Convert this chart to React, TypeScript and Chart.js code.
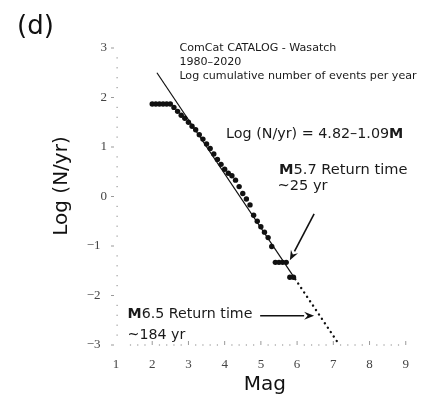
import React, { useEffect, useRef } from 'react';
import { Chart, registerables } from 'chart.js';

Chart.register(...registerables);

// Observed data: magnitude bins and log cumulative events per year
const magnitudes = [
  2.0, 2.1, 2.2, 2.3, 2.4, 2.5, 2.6, 2.7, 2.8, 2.9,
  3.0, 3.1, 3.2, 3.3, 3.4, 3.5, 3.6, 3.7, 3.8, 3.9,
  4.0, 4.1, 4.2, 4.3, 4.4, 4.5, 4.6, 4.7, 4.8, 4.9,
  5.0, 5.1, 5.2, 5.3, 5.4, 5.5, 5.6, 5.7, 5.8, 5.9,
];
const logRates = [
  1.87, 1.87, 1.87, 1.87, 1.87, 1.87, 1.80, 1.72, 1.64, 1.58,
  1.50, 1.42, 1.35, 1.25, 1.16, 1.06, 0.97, 0.86, 0.75, 0.65,
  0.55, 0.47, 0.42, 0.33, 0.20, 0.06, -0.05, -0.17, -0.38, -0.50,
  -0.61, -0.72, -0.83, -1.01, -1.33, -1.33, -1.33, -1.33, -1.63, -1.63,
];

// Fit line Log(N/yr) = 4.82 - 1.09M (read endpoints)
const fitSolidX = [2.13, 5.95];
const fitSolidY = [2.5, -1.67];
const fitDotX = [5.95, 7.17];
const fitDotY = [-1.67, -3.0];

// Axis ranges / ticks
const xMin = 1;
const xMax = 9;
const yMin = -3;
const yMax = 3;

// Annotations text
const catalogLines = [
  'ComCat CATALOG - Wasatch',
  '1980\u20132020',
  'Log cumulative number of events per year',
];
const equationText = ['Log (N/yr) = 4.82\u20131.09', 'M'];
const note57 = ['M', '5.7 Return time', '~25 yr'];
const note65 = ['M', '6.5 Return time', '~184 yr'];

const SANS = '"DejaVu Sans", sans-serif';

function drawArrow(ctx: CanvasRenderingContext2D, x0: number, y0: number, x1: number, y1: number) {
  const ang = Math.atan2(y1 - y0, x1 - x0);
  const hl = 10;
  const hw = 4;
  const bx = x1 - hl * Math.cos(ang);
  const by = y1 - hl * Math.sin(ang);
  ctx.beginPath();
  ctx.moveTo(x0, y0);
  ctx.lineTo(bx, by);
  ctx.lineWidth = 1.6;
  ctx.strokeStyle = '#111';
  ctx.stroke();
  ctx.beginPath();
  ctx.moveTo(x1, y1);
  ctx.lineTo(bx + hw * Math.sin(ang), by - hw * Math.cos(ang));
  ctx.lineTo(bx + 0.35 * hl * Math.cos(ang), by + 0.35 * hl * Math.sin(ang));
  ctx.lineTo(bx - hw * Math.sin(ang), by + hw * Math.cos(ang));
  ctx.closePath();
  ctx.fillStyle = '#111';
  ctx.fill();
}

function drawParts(ctx: CanvasRenderingContext2D, parts: { t: string; b?: boolean }[], x: number, y: number, size: number) {
  let cx = x;
  ctx.textAlign = 'left';
  ctx.textBaseline = 'middle';
  ctx.fillStyle = '#1a1a1a';
  for (const p of parts) {
    ctx.font = `${p.b ? 'bold ' : ''}${size}px ${SANS}`;
    ctx.fillText(p.t, cx, y);
    cx += ctx.measureText(p.t).width;
  }
}

const overlayPlugin = {
  id: 'overlay',
  afterDraw(chart: any) {
    const { ctx, chartArea } = chart;
    const xs = chart.scales.x;
    const ys = chart.scales.y;
    ctx.save();

    // y axis ticks
    ctx.fillStyle = '#9a9a9a';
    for (let i = 0; i <= 30; i++) {
      const v = yMin + i * 0.2;
      const py = ys.getPixelForValue(v);
      if (i % 5 === 0) {
        ctx.fillRect(chartArea.left - 5, py - 0.5, 3, 1);
      } else {
        ctx.fillRect(chartArea.left + 0.5, py - 0.6, 1.2, 1.2);
      }
    }
    // x axis ticks
    for (let i = 2; i <= 40; i++) {
      const v = xMin + i * 0.2;
      const px = xs.getPixelForValue(v);
      const py = ys.getPixelForValue(yMin);
      if (i % 5 === 0) {
        ctx.fillRect(px - 0.5, py - 4, 1, 4);
      } else {
        ctx.fillRect(px - 0.6, py - 0.6, 1.2, 1.2);
      }
    }

    // panel letter
    ctx.fillStyle = '#111';
    ctx.font = `26px ${SANS}`;
    ctx.textAlign = 'left';
    ctx.textBaseline = 'middle';
    ctx.fillText('(d)', 17, 27);

    // axis titles
    ctx.font = `20px ${SANS}`;
    ctx.textAlign = 'center';
    ctx.fillText('Mag', (chartArea.left + chartArea.right) / 2 + 4, 385);
    ctx.save();
    ctx.translate(62, 186);
    ctx.rotate(-Math.PI / 2);
    ctx.fillText('Log (N/yr)', 0, 0);
    ctx.restore();

    // catalog text
    const cx = xs.getPixelForValue(2.75);
    catalogLines.forEach((line, i) => {
      drawParts(ctx, [{ t: line }], cx, ys.getPixelForValue(2.99) + i * 14, 11.1);
    });

    // equation
    drawParts(ctx, [{ t: equationText[0] }, { t: equationText[1], b: true }], xs.getPixelForValue(4.04), ys.getPixelForValue(1.26), 14.3);

    // M5.7 note
    drawParts(ctx, [{ t: note57[0], b: true }, { t: note57[1] }], xs.getPixelForValue(5.5), ys.getPixelForValue(0.54), 14.6);
    drawParts(ctx, [{ t: note57[2] }], xs.getPixelForValue(5.46), ys.getPixelForValue(0.2), 14.6);
    drawArrow(ctx, xs.getPixelForValue(6.47), ys.getPixelForValue(-0.35), xs.getPixelForValue(5.8), ys.getPixelForValue(-1.29));

    // M6.5 note
    drawParts(ctx, [{ t: note65[0], b: true }, { t: note65[1] }], xs.getPixelForValue(1.32), ys.getPixelForValue(-2.39), 14.2);
    drawParts(ctx, [{ t: note65[2] }], xs.getPixelForValue(1.32), ys.getPixelForValue(-2.8), 14.2);
    drawArrow(ctx, xs.getPixelForValue(4.98), ys.getPixelForValue(-2.41), xs.getPixelForValue(6.47), ys.getPixelForValue(-2.41));

    ctx.restore();
  },
};

export default function App() {
  const ref = useRef<HTMLCanvasElement | null>(null);

  useEffect(() => {
    document.body.style.margin = '0';
    const canvas = ref.current;
    if (!canvas) return;
    const chart = new Chart(canvas, {
      type: 'scatter',
      data: {
        datasets: [
          {
            type: 'line',
            data: fitSolidX.map((x, i) => ({ x, y: fitSolidY[i] })),
            borderColor: '#111',
            borderWidth: 1.2,
            pointRadius: 0,
            fill: false,
          } as any,
          {
            type: 'line',
            data: fitDotX.map((x, i) => ({ x, y: fitDotY[i] })),
            borderColor: '#111',
            borderWidth: 2.4,
            borderDash: [0.01, 5.3],
            borderCapStyle: 'round',
            pointRadius: 0,
            fill: false,
            clip: false,
          } as any,
          {
            data: magnitudes.map((x, i) => ({ x, y: logRates[i] })),
            backgroundColor: '#111',
            borderColor: '#111',
            borderWidth: 0,
            pointRadius: 2.7,
            clip: false,
          } as any,
        ],
      },
      options: {
        responsive: false,
        animation: false,
        devicePixelRatio: 1,
        layout: { padding: { top: 48, right: 8, left: 0, bottom: 0 } },
        plugins: { legend: { display: false }, tooltip: { enabled: false } },
        scales: {
          x: {
            type: 'linear',
            min: xMin,
            max: xMax,
            border: { display: false },
            grid: { display: false, drawTicks: false },
            ticks: {
              stepSize: 1,
              padding: 12,
              color: '#444',
              font: { family: '"Liberation Serif", serif', size: 13 },
            },
            afterFit: (s: any) => {
              s.height = 54;
            },
          },
          y: {
            type: 'linear',
            min: yMin,
            max: yMax,
            border: { display: false },
            grid: { display: false, drawTicks: false },
            ticks: {
              stepSize: 1,
              padding: 9,
              color: '#444',
              font: { family: '"Liberation Serif", serif', size: 13 },
              callback: (v: any) => (v < 0 ? '\u2212' + Math.abs(v) + '\u2002' : String(v)),
            },
            afterFit: (s: any) => {
              s.width = 116;
            },
          },
        },
      },
      plugins: [overlayPlugin],
    });
    return () => chart.destroy();
  }, []);

  return (
    <div style={{ width: 421, height: 399 }}>
      <canvas ref={ref} width={421} height={399} style={{ display: 'block' }} />
    </div>
  );
}
